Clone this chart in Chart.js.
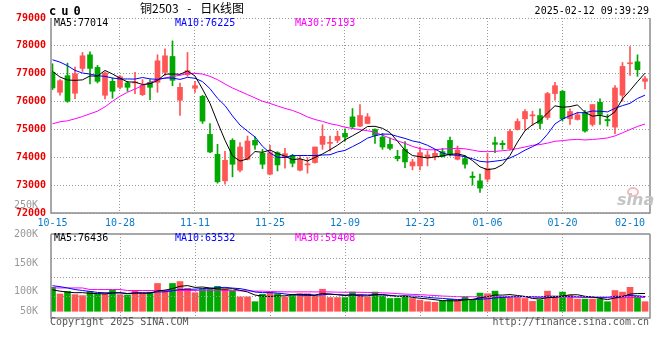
<!DOCTYPE html>
<html>
<head>
<meta charset="utf-8">
<title>cu0 日K线图</title>
<script src="https://cdn.jsdelivr.net/npm/chart.js@4.4.1/dist/chart.umd.min.js"></script>
<style>
body { margin: 0; background: #fff; }
#caja { position: relative; width: 660px; height: 360px; overflow: hidden; font-family: "DejaVu Sans Mono", monospace; }
#precio { position: absolute; left: 0; top: 0; }
#volumen { position: absolute; left: 0; top: 190px; }
.txt { position: absolute; font-size: 10px; line-height: 12px; white-space: pre; }
#codigo { left: 49px; top: 4px; font-size: 12px; line-height: 14px; font-weight: bold; letter-spacing: 5px; }
#titulo { left: 140px; top: 1px; font-family: "Noto Sans CJK SC", sans-serif; font-size: 12px; line-height: 14px; word-spacing: 6px; color: #000; }
#hora { right: 11px; top: 5px; }
#copy { left: 50px; top: 316px; color: #555; }
#url { right: 11px; top: 316px; color: #555; }
#sina { left: 617px; top: 192px; font-family: "DejaVu Sans", sans-serif; font-size: 16px; line-height: 16px; font-weight: bold; font-style: italic; color: #c4c4c4; }
#ojo { position: absolute; left: 627px; top: 187px; width: 8px; height: 6px; border: 2px solid #f2bcbc; border-radius: 50%; }
</style>
</head>
<body>
<div id="caja">
	<canvas id="precio" width="660" height="230"></canvas>
	<canvas id="volumen" width="660" height="170"></canvas>

	<div class="txt" id="codigo">cu0</div>
	<div class="txt" id="titulo">铜2503 - 日K线图</div>
	<div class="txt" id="hora">2025-02-12 09:39:29</div>

	<div class="txt" style="left:54px; top:17px; color:#000;">MA5:77014</div>
	<div class="txt" style="left:175px; top:17px; color:#0000ff;">MA10:76225</div>
	<div class="txt" style="left:295px; top:17px; color:#ff00ff;">MA30:75193</div>

	<div class="txt" style="left:54px; top:232px; color:#000;">MA5:76436</div>
	<div class="txt" style="left:175px; top:232px; color:#0000ff;">MA10:63532</div>
	<div class="txt" style="left:295px; top:232px; color:#ff00ff;">MA30:59408</div>

	<div id="ojo"></div>
	<div class="txt" id="sina">sina</div>

	<div class="txt" id="copy">Copyright 2025 SINA.COM</div>
	<div class="txt" id="url">http://finance.sina.com.cn</div>
</div>

<script>
var fechas = [
	'10-15','10-16','10-17','10-18','10-21','10-22','10-23','10-24','10-25','10-28','10-29','10-30','10-31',
	'11-01','11-04','11-05','11-06','11-07','11-08','11-11','11-12','11-13','11-14','11-15','11-18','11-19',
	'11-20','11-21','11-22','11-25','11-26','11-27','11-28','11-29',
	'12-02','12-03','12-04','12-05','12-06','12-09','12-10','12-11','12-12','12-13','12-16','12-17','12-18',
	'12-19','12-20','12-23','12-24','12-25','12-26','12-27','12-30','12-31',
	'01-02','01-03','01-06','01-07','01-08','01-09','01-10','01-13','01-14','01-15','01-16','01-17','01-20',
	'01-21','01-22','01-23','01-24','01-27',
	'02-05','02-06','02-07','02-10','02-11','02-12'
];

var apertura = [
	77048,76333,76929,76298,77190,77679,77226,76226,76726,76512,
	76667,76667,76250,76690,76690,77048,77619,76048,76964,76476,
	76190,74821,74107,73155,74607,73536,73929,74607,74143,73393,
	74167,73988,74071,73536,73726,73810,74464,74500,74607,74857,
	75452,75119,75214,75000,74726,74464,74036,74286,73690,73690,
	73988,74024,74202,74607,73929,73952,73321,73155,73214,74524,
	74500,74310,75000,75381,75488,75500,75429,76286,76369,75381,
	75357,75595,75179,75976,75357,75083,76226,77357,77429,76726
];
var maximo = [
	77357,76786,77381,77238,77762,77786,77298,77060,76845,76929,
	76726,77048,76786,76786,77679,77893,78179,76667,77762,76726,
	76226,75214,74464,74214,74667,74524,74762,74738,74286,74429,
	74202,74321,74107,74048,73988,74369,75167,74762,74940,75024,
	75750,75893,75571,75024,74857,74702,74250,74560,73929,74369,
	74226,74286,74321,74726,74405,74048,73476,73393,74143,74726,
	74595,75000,75381,75714,75655,75738,76333,76690,76405,75738,
	75619,75690,75893,76095,75536,76571,77405,77976,77679,76905
];
var minimo = [
	76429,76226,75976,76107,77083,76631,76667,76095,76119,76452,
	76369,76286,76214,76071,76333,76940,76571,75500,76905,76333,
	75214,74167,73071,73036,73298,73476,73905,74286,73595,73369,
	73512,73607,73655,73512,73429,73786,74286,74226,74524,74583,
	75024,75095,75202,74500,74286,74262,73869,73631,73548,73548,
	73690,73905,74012,74048,73905,73607,73000,72738,73119,74167,
	74286,74262,74976,74976,75143,75024,75357,76048,75298,75179,
	75333,74905,75119,75179,75119,74845,76012,76940,76905,76452
];
var cierre = [
	76488,76750,76012,77000,77643,77190,76726,77024,76369,76893,
	76512,76702,76583,76512,77464,77643,76762,76512,77107,76571,
	75298,74190,73119,73893,73750,74369,74583,74440,73750,74167,
	73726,74131,73786,73929,73762,74369,74750,74536,74750,74726,
	75095,75500,75452,74786,74369,74321,73952,73833,73833,74167,
	74083,74143,74024,74107,74262,73750,73274,72893,73595,74464,
	74452,74929,75286,75643,75524,75214,76286,76571,75381,75643,
	75524,74940,75893,75536,75310,76488,77262,77381,77143,76821
];

var ma5 = [
	77083,76881,76774,76762,76779,76919,76914,77117,76990,76840,
	76705,76700,76612,76640,76755,76981,76993,76979,77098,76919,
	76450,75936,75257,74614,74050,73864,73943,74207,74178,74262,
	74133,74043,73912,73948,73867,73995,74119,74269,74433,74626,
	74771,74921,75105,75112,75040,74886,74576,74252,74062,74021,
	73974,74012,74050,74105,74124,74057,73883,73657,73555,73595,
	73736,74067,74545,74955,75167,75319,75591,75848,75795,75819,
	75881,75612,75476,75507,75441,75633,76098,76395,76717,77019
];
var ma10 = [
	77500,77417,77286,77119,77024,76988,76929,76905,76845,76810,
	76812,76807,76864,76815,76798,76843,76846,76795,76869,76837,
	76715,76464,76118,75856,75485,75157,74939,74732,74396,74156,
	73999,73993,74060,74063,74064,74064,74081,74091,74191,74247,
	74383,74520,74687,74773,74833,74829,74749,74678,74587,74531,
	74430,74294,74151,74083,74073,74015,73948,73854,73830,73860,
	73896,73975,74101,74255,74381,74527,74829,75196,75375,75493,
	75600,75601,75662,75651,75630,75757,75855,75936,76112,76230
];
var ma30 = [
	75202,75274,75310,75381,75464,75560,75655,75810,76012,76190,
	76333,76452,76571,76690,76786,76845,76905,76940,77012,77012,
	76988,76905,76786,76631,76488,76369,76250,76131,76012,75934,
	75842,75755,75681,75578,75449,75355,75289,75206,75152,75080,
	75033,74992,74955,74897,74794,74683,74590,74500,74391,74311,
	74271,74269,74299,74306,74323,74303,74259,74208,74202,74212,
	74236,74263,74313,74370,74429,74457,74508,74576,74597,74628,
	74642,74623,74638,74663,74694,74767,74877,74995,75106,75194
];

var volumen = [
	103100,74300,85300,71500,67400,85300,72900,75600,90800,71500,
	70100,88000,78400,82500,119600,86600,119600,127900,99000,79800,
	96300,97600,107300,96300,88000,61900,61900,41300,72900,79800,
	75600,61900,71500,75600,75600,66000,94900,59100,59100,59100,
	82500,70100,61900,82500,66000,55000,56400,66000,55000,48100,
	41300,38500,45400,52300,48100,61900,48100,78400,75600,86600,
	59100,59100,59100,55000,42600,49500,86600,66000,82500,68800,
	52300,52300,52300,52300,41300,89400,82500,103100,66000,41300
];
var volMa5 = [
	92100,86600,82500,79800,80300,76700,76500,74500,78400,79200,
	76200,79200,79800,78100,87700,91000,97400,107300,110600,102600,
	104500,100100,96000,95400,97100,90200,83100,69900,65200,63500,
	66300,66300,72300,72900,72100,70100,76700,74300,71000,67700,
	71000,66000,66600,71200,72600,67100,64400,65200,59700,56100,
	53400,49800,45700,45100,45100,49200,51200,57800,62400,70100,
	69600,71800,67900,63800,55000,53100,58600,60000,65500,70700,
	71200,64400,61600,55600,50100,57500,63500,73700,76500,76500
];
var volMa10 = [
	110000,105900,100400,93500,89400,85300,81100,79800,79800,79800,
	76500,77800,77100,78200,83500,83600,88300,93500,94300,95200,
	97800,98700,101600,103000,99800,97400,91600,82900,80300,80300,
	78200,74700,71100,69000,67800,68200,71500,73300,71900,69900,
	70500,71400,70400,71100,70100,69000,65200,65900,65500,64400,
	60200,57100,55400,52400,50600,51300,50500,51700,53800,57600,
	59400,61500,62800,63100,62600,61300,65200,63900,64600,62800,
	62200,61500,60800,60500,60400,64400,63900,67700,66000,63300
];
var volMa30 = [
	100400,100400,100400,100400,100400,93500,93500,93500,93500,93500,
	89400,89400,89400,89400,89400,89400,89400,89400,89400,89400,
	90800,90800,90800,89400,89400,88000,88000,86600,86600,85100,
	84200,83700,83300,83500,83700,83100,83700,83200,82200,81800,
	82200,81500,81000,81000,79200,78200,76000,74000,72600,71500,
	69700,67700,65600,64200,62800,62800,62400,63700,63700,63900,
	63400,63300,62800,62200,61100,60500,60200,60500,61300,61600,
	60600,60000,59700,58700,57900,58000,58600,59300,59600,59400
];

var fechasEje = ['10-15','10-28','11-11','11-25','12-09','12-23','01-06','01-20','02-10'];
var precioEje = [72000, 73000, 74000, 75000, 76000, 77000, 78000, 79000];
var volEtiquetas = ['250K', '200K', '150K', '100K', '50K'];
var volPosEtiquetas = [455000, 330000, 206000, 85000, 0];
var volLineasGuia = [231000, 148500, 66000];

var ROJO = '#ff5555';
var VERDE = '#00a800';
var GRIS = '#999999';


function puntos(arr){
	return arr.map(function(v, i){ return {x: i, y: v}; });
}

function rangos(a, b){
	return a.map(function(v, i){ return {x: i, y: [v, b[i]]}; });
}

function coloresVela(){
	return cierre.map(function(c, i){ return c >= apertura[i] ? ROJO : VERDE; });
}

var idxEje = fechasEje.map(function(f){ return fechas.indexOf(f); });

function lineaMA(nombre, datos, color, orden){
	return {
		type: 'line',
		label: nombre,
		data: puntos(datos),
		borderColor: color,
		borderWidth: 1,
		pointRadius: 0,
		tension: 0,
		order: orden
	};
}

function ejeX(mostrar){
	return {
		type: 'linear',
		min: -0.2,
		max: 79.667,
		offset: false,
		display: mostrar,
		afterBuildTicks: function(s){
			s.ticks = idxEje.map(function(v){ return {value: v}; });
		},
		afterFit: function(s){ s.height = mostrar ? 17 : 0; },
		grid: {
			offset: false,
			drawTicks: false,
			lineWidth: 1,
			color: function(c){
				var v = c.tick ? c.tick.value : -1;
				if (v === idxEje[0] || v === idxEje[idxEje.length - 1]) return 'rgba(0,0,0,0)';
				return GRIS;
			}
		},
		border: { display: false, dash: [1, 2] },
		ticks: {
			autoSkip: false,
			maxRotation: 0,
			padding: 4,
			color: '#0a7ac8',
			callback: function(v){ return fechas[v]; }
		}
	};
}

// marco gris y lineas punteadas que chart.js no pone solo
var marco = {
	id: 'marco',
	afterDraw: function(chart){
		var op = chart.options.plugins.marco;
		if (!op) return;
		var ctx = chart.ctx;
		var a = chart.chartArea;
		var top = op.top !== undefined ? op.top : a.top;
		ctx.save();

		if (op.guias) {
			ctx.strokeStyle = GRIS;
			ctx.lineWidth = 1;
			ctx.setLineDash([1, 2]);
			op.guias.forEach(function(v){
				var y = Math.round(chart.scales.y.getPixelForValue(v)) + 0.5;
				ctx.beginPath(); ctx.moveTo(a.left, y); ctx.lineTo(a.right, y); ctx.stroke();
			});
			idxEje.slice(1, idxEje.length - 1).forEach(function(v){
				var x = Math.round(chart.scales.x.getPixelForValue(v)) + 0.5;
				ctx.beginPath(); ctx.moveTo(x, top); ctx.lineTo(x, a.bottom); ctx.stroke();
			});
		}

		ctx.setLineDash([]);
		ctx.strokeStyle = '#8c8c8c';
		ctx.lineWidth = 1.5;
		ctx.beginPath();
		if (op.arriba) {
			ctx.moveTo(a.left, top); ctx.lineTo(a.right, top);
		}
		ctx.moveTo(a.left, top); ctx.lineTo(a.left, a.bottom);
		ctx.moveTo(a.right, top); ctx.lineTo(a.right, a.bottom);
		ctx.moveTo(a.left - 0.75, a.bottom); ctx.lineTo(a.right + 0.75, a.bottom);
		ctx.stroke();
		ctx.restore();
	}
};


window.onload = function(){

	Chart.defaults.font.family = "'DejaVu Sans Mono', monospace";
	Chart.defaults.font.size = 10;

	var colores = coloresVela();

	/* K diaria */
	var ctxPrecio = document.getElementById('precio').getContext('2d');
	var graficaPrecio = new Chart(ctxPrecio, {
		type: 'line',
		data: {
			datasets: [
				lineaMA('MA5', ma5, '#000000', 0),
				lineaMA('MA10', ma10, '#0000ff', 1),
				lineaMA('MA30', ma30, '#ff00ff', 2),
				{
					type: 'bar',
					label: 'cuerpo',
					data: rangos(apertura, cierre),
					backgroundColor: colores,
					barThickness: 5,
					minBarLength: 1,
					grouped: false,
					order: 3
				},
				{
					type: 'bar',
					label: 'mecha',
					data: rangos(minimo, maximo),
					backgroundColor: colores,
					barThickness: 1,
					grouped: false,
					order: 4
				}
			]
		},
		options: {
			responsive: false,
			animation: false,
			devicePixelRatio: 1,
			events: [],
			layout: { padding: { left: 0, right: 10, top: 18, bottom: 0 } },
			scales: {
				x: ejeX(true),
				y: {
					min: 72000,
					max: 79000,
					afterFit: function(s){ s.width = 51; },
					afterBuildTicks: function(s){
						s.ticks = precioEje.map(function(v){ return {value: v}; });
					},
					grid: { color: GRIS, drawTicks: false, lineWidth: 1 },
					border: { display: false, dash: [1, 2] },
					ticks: {
						padding: 5,
						color: '#ee0000',
						font: { weight: 'bold' },
						callback: function(v){ return String(v); }
					}
				}
			},
			plugins: {
				legend: { display: false },
				tooltip: { enabled: false },
				marco: { arriba: false }
			}
		},
		plugins: [marco]
	});

	/* volumen */
	var ctxVol = document.getElementById('volumen').getContext('2d');
	var graficaVol = new Chart(ctxVol, {
		type: 'bar',
		data: {
			datasets: [
				lineaMA('MA5', volMa5, '#000000', 0),
				lineaMA('MA10', volMa10, '#0000ff', 1),
				lineaMA('MA30', volMa30, '#ff00ff', 2),
				{
					type: 'bar',
					label: 'volumen',
					data: puntos(volumen),
					backgroundColor: colores,
					barThickness: 6,
					grouped: false,
					order: 3
				}
			]
		},
		options: {
			responsive: false,
			animation: false,
			devicePixelRatio: 1,
			events: [],
			layout: { padding: { left: 0, right: 10, top: 6, bottom: 42 } },
			scales: {
				x: ejeX(false),
				y: {
					min: -28900,
					max: 474400,
					afterFit: function(s){ s.width = 51; },
					afterBuildTicks: function(s){
						s.ticks = volPosEtiquetas.map(function(v){ return {value: v}; });
					},
					grid: { display: false },
					border: { display: false },
					ticks: {
						autoSkip: false,
						padding: 5,
						color: GRIS,
						callback: function(v){ return volEtiquetas[volPosEtiquetas.indexOf(v)]; }
					}
				}
			},
			plugins: {
				legend: { display: false },
				tooltip: { enabled: false },
				marco: { arriba: true, top: 44, guias: volLineasGuia }
			}
		},
		plugins: [marco]
	});

};
</script>
</body>
</html>
